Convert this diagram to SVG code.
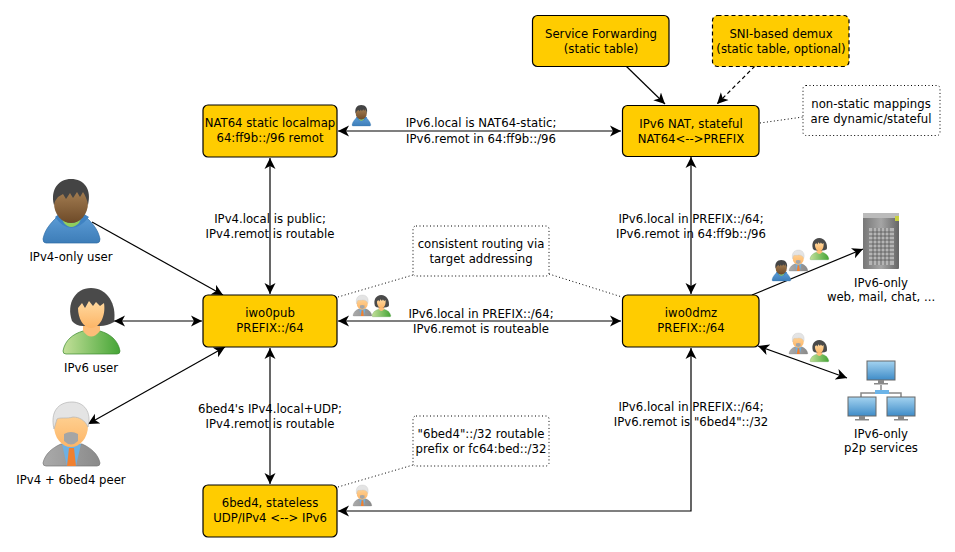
<svg xmlns="http://www.w3.org/2000/svg" width="955" height="552" viewBox="0 0 955 552">
<style>
text{font-family:"DejaVu Sans",Verdana,sans-serif;font-size:11.700px;fill:#000;text-anchor:middle}
.n{fill:#ffcc00;stroke:#000;stroke-width:1.2}
.note{fill:#fff;stroke:#000;stroke-width:1;stroke-dasharray:1 2.500}
.c{fill:none;stroke:#000;stroke-width:1.2}
.d{fill:none;stroke:#000;stroke-width:1;stroke-dasharray:1 2.500}
</style>
<defs>
<marker id="a" viewBox="0 0 12 12" refX="11" refY="6" markerWidth="12" markerHeight="12" markerUnits="userSpaceOnUse" orient="auto-start-reverse"><path d="M0 0.500L11 6L0 11.500L3 6Z" fill="#000"/></marker>
<linearGradient id="blue" x1="0" y1="0" x2="0" y2="1"><stop offset="0" stop-color="#5b9bd5"/><stop offset="1" stop-color="#3d7db8"/></linearGradient>
<linearGradient id="green" x1="0" y1="0" x2="1" y2="0"><stop offset="0" stop-color="#c4e09a"/><stop offset="1" stop-color="#45a536"/></linearGradient>
<linearGradient id="grey" x1="0" y1="0" x2="1" y2="0"><stop offset="0" stop-color="#aaa"/><stop offset="1" stop-color="#8a8a8a"/></linearGradient>
<linearGradient id="skin" x1="0" y1="0" x2="0" y2="1"><stop offset="0" stop-color="#ffd9a0"/><stop offset="1" stop-color="#fdb566"/></linearGradient>
<linearGradient id="brown" x1="0" y1="0" x2="0" y2="1"><stop offset="0" stop-color="#b08a5c"/><stop offset="1" stop-color="#6e4a28"/></linearGradient>
<linearGradient id="screen" x1="0" y1="0" x2="0" y2="1"><stop offset="0" stop-color="#a4d3f0"/><stop offset="1" stop-color="#3f8cc8"/></linearGradient>
<linearGradient id="tower" x1="0" y1="0" x2="1" y2="0"><stop offset="0" stop-color="#777"/><stop offset="0.500" stop-color="#a5a5a5"/><stop offset="1" stop-color="#666"/></linearGradient>
<g id="male">
<path d="M0 60C2 50 8 44 14 38L43 38C49 44 55 50 57 60Q57 64 54 64L3 64Q0 64 0 60Z" fill="url(#blue)" stroke="#2d6ca5" stroke-width=".7"/>
<path d="M16 35Q28 52 41 35L46 38Q28 60 12 38Z" fill="#3f82c2"/>
<path d="M19 40Q28 48 38 40L36 44Q28 52 21 44Z" fill="#8fce5e"/>
<ellipse cx="28" cy="24" rx="17" ry="20" fill="url(#brown)"/>
<path d="M11 26C7 10 16 0 28 0C41 0 49 10 45 26C44 20 42 16 40 13L37 18L34 13L30 19L27 14L23 20L20 15L15 18Q12 21 11 26Z" fill="#444"/>
</g>
<g id="female">
<path d="M0 63C2 52 10 46 20 43L37 43C47 46 55 52 57 63Q57 66 54 66L3 66Q0 66 0 63Z" fill="url(#green)" stroke="#3a8a2e" stroke-width=".7"/>
<path d="M20 36H37V43Q28 54 20 43Z" fill="#fdbd78"/>
<path d="M9 33C3 16 12 0 28 0C44 0 54 16 51 34Q44 38 37 38L20 38Q13 38 9 33Z" fill="#4a4a4a"/>
<path d="M15 20L19 15L22 20L26 13L30 18L33 14L37 18L41 15C43 28 37 40 28 40C20 40 15 30 15 20Z" fill="url(#skin)"/>
</g>
<g id="old">
<path d="M0 61C2 52 9 46 18 42L39 42C48 46 55 52 57 61Q57 64 54 64L3 64Q0 64 0 61Z" fill="url(#grey)" stroke="#777" stroke-width=".7"/>
<path d="M19 42H38L33 64H24Z" fill="#6cb0e4"/>
<path d="M26 46H31L33 64H24Z" fill="#f08030"/>
<ellipse cx="28" cy="24" rx="17" ry="21" fill="url(#skin)"/>
<path d="M21 32Q28 28 35 32L35 39Q28 46 21 39Z" fill="#a5a5a5"/>
<path d="M11 27C7 10 15 0 29 0C41 0 49 10 45 25C42 18 36 15 30 15C24 17 17 15 14 17Z" fill="#e4e4e4" stroke="#b5b5b5" stroke-width=".7"/>
</g>
<g id="monitor">
<rect x="0" y="0" width="28" height="19" fill="url(#screen)" stroke="#666" stroke-width="1"/>
<rect x="11" y="19" width="6" height="3" fill="#888"/>
<rect x="7" y="22" width="14" height="1.500" fill="#888"/>
</g>
</defs>

<g id="connectors">
<path class="c" d="M270 158V294" marker-start="url(#a)" marker-end="url(#a)"/>
<path class="c" d="M338 131H621" marker-start="url(#a)" marker-end="url(#a)"/>
<path class="c" d="M691 157V294" marker-start="url(#a)" marker-end="url(#a)"/>
<path class="c" d="M338 321H621" marker-start="url(#a)" marker-end="url(#a)"/>
<path class="c" d="M270 348V484" marker-start="url(#a)" marker-end="url(#a)"/>
<path class="c" d="M338 511H691V348" marker-start="url(#a)" marker-end="url(#a)"/>
<path class="c" d="M626 66L665 104" marker-end="url(#a)"/>
<path class="c" d="M755 66L717 104" stroke-dasharray="4 3" marker-end="url(#a)"/>
<path class="c" d="M92 222L223 295" marker-end="url(#a)"/>
<path class="c" d="M114 321H202" marker-start="url(#a)" marker-end="url(#a)"/>
<path class="c" d="M88 424L225 347" marker-start="url(#a)" marker-end="url(#a)"/>
<path class="c" d="M752 295L863 249" marker-end="url(#a)"/>
<path class="c" d="M758 346L847 378" marker-start="url(#a)" marker-end="url(#a)"/>
<path class="d" d="M760 123L803 117"/>
<path class="d" d="M338 297L413 275"/>
<path class="d" d="M549 274L622 297"/>
<path class="d" d="M338 487L413 465"/>
</g>

<g id="n-nat64"><rect class="n" x="203" y="105" width="134" height="52" rx="5"/><text x="270" y="127">NAT64 static localmap</text><text x="270" y="142">64:ff9b::/96 remot</text></g>
<g id="n-nat"><rect class="n" x="622.500" y="105.500" width="136.500" height="51" rx="5"/><text x="691" y="128">IPv6 NAT, stateful</text><text x="691" y="143">NAT64&lt;--&gt;PREFIX</text></g>
<g id="n-sf"><rect class="n" x="532.500" y="15.500" width="136.500" height="51" rx="5"/><text x="601" y="38">Service Forwarding</text><text x="601" y="53">(static table)</text></g>
<g id="n-sni"><rect class="n" x="712.500" y="15.500" width="136.500" height="51" rx="5" stroke-dasharray="4 3"/><text x="781" y="38">SNI-based demux</text><text x="781" y="53">(static table, optional)</text></g>
<g id="n-pub"><rect class="n" x="203" y="295" width="134" height="52" rx="5"/><text x="270" y="317">iwo0pub</text><text x="270" y="332">PREFIX::/64</text></g>
<g id="n-dmz"><rect class="n" x="622.500" y="295" width="136.500" height="52" rx="5"/><text x="691" y="317">iwo0dmz</text><text x="691" y="332">PREFIX::/64</text></g>
<g id="n-6bed4"><rect class="n" x="203" y="485" width="134" height="52" rx="5"/><text x="270" y="507">6bed4, stateless</text><text x="270" y="522">UDP/IPv4 &lt;--&gt; IPv6</text></g>

<g id="note-dyn"><rect class="note" x="803" y="85.500" width="137" height="50" rx="3"/><text x="871" y="108">non-static mappings</text><text x="871" y="123">are dynamic/stateful</text></g>
<g id="note-route"><rect class="note" x="413" y="226" width="136" height="50" rx="3"/><text x="481" y="248">consistent routing via</text><text x="481" y="263">target addressing</text></g>
<g id="note-prefix"><rect class="note" x="413" y="416" width="136" height="50" rx="3"/><text x="481" y="438">"6bed4"::/32 routable</text><text x="481" y="453">prefix or fc64:bed::/32</text></g>

<g id="labels">
<text x="481" y="127">IPv6.local is NAT64-static;</text><text x="481" y="143">IPv6.remot in 64:ff9b::/96</text>
<text x="270" y="223">IPv4.local is public;</text><text x="270" y="238">IPv4.remot is routable</text>
<text x="691" y="223">IPv6.local in PREFIX::/64;</text><text x="691" y="238">IPv6.remot in 64:ff9b::/96</text>
<text x="481" y="318">IPv6.local in PREFIX::/64;</text><text x="481" y="333">IPv6.remot is routeable</text>
<text x="270" y="413">6bed4's IPv4.local+UDP;</text><text x="270" y="428">IPv4.remot is routable</text>
<text x="691" y="411">IPv6.local in PREFIX::/64;</text><text x="691" y="426">IPv6.remot is "6bed4"::/32</text>
</g>

<g id="u-v4"><use href="#male" transform="translate(43 179)"/><text x="71" y="261">IPv4-only user</text></g>
<g id="u-v6"><use href="#female" transform="translate(63 288)"/><text x="91" y="372">IPv6 user</text></g>
<g id="u-peer"><use href="#old" transform="translate(43 402)"/><text x="71" y="484">IPv4 + 6bed4 peer</text></g>

<g id="badges">
<use href="#male" transform="translate(352 105) scale(.33)"/>
<use href="#old" transform="translate(353 295) scale(.33)"/>
<use href="#female" transform="translate(372 295) scale(.33)"/>
<use href="#old" transform="translate(353 485) scale(.33)"/>
<use href="#male" transform="translate(772 260) scale(.33)"/>
<use href="#old" transform="translate(789 250) scale(.33)"/>
<use href="#female" transform="translate(810 238) scale(.33)"/>
<use href="#old" transform="translate(789 333) scale(.33)"/>
<use href="#female" transform="translate(810 340) scale(.33)"/>
</g>

<g id="s-web">
<rect x="863" y="213" width="36" height="56" fill="url(#tower)" rx="1"/>
<rect x="863" y="213" width="36" height="5" fill="#bbb"/>
<rect x="895" y="216" width="4" height="5" fill="#c8d040"/>
<rect x="869" y="228" width="25" height="37" fill="#b5b5b5"/>
<path d="M869 232H894M869 236H894M869 240H894M869 244H894M869 248H894M869 252H894M869 256H894M869 260H894M873 228V265M877 228V265M881 228V265M885 228V265M889 228V265" stroke="#555" stroke-width=".8" fill="none"/>
<text x="881" y="287">IPv6-only</text><text x="881" y="301">web, mail, chat, ...</text>
</g>
<g id="s-p2p">
<path d="M861 397V393H901V397M881 385V393" stroke="#888" stroke-width="1.500" fill="none"/>
<use href="#monitor" transform="translate(867 361)"/>
<use href="#monitor" transform="translate(848 397)"/>
<use href="#monitor" transform="translate(887 397)"/>
<rect x="875" y="390" width="14" height="4" fill="#6cb4e8"/>
<text x="881" y="438">IPv6-only</text><text x="881" y="452">p2p services</text>
</g>
</svg>
